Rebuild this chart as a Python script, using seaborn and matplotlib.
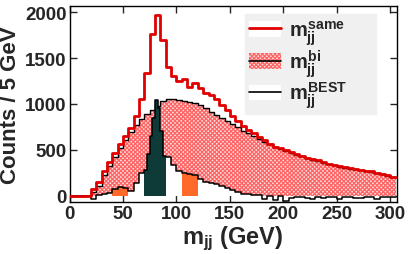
import numpy as np
import pandas as pd
import matplotlib
matplotlib.use("Agg")
import matplotlib.pyplot as plt
import seaborn as sns
from matplotlib.patches import Patch
from matplotlib.lines import Line2D

# ---------------- data (Counts / 5 GeV) ----------------
edges5 = np.arange(0, 310, 5)  # 0 ... 305

m_same = [0, 0, 0, 0, 70, 145, 270, 365, 470, 565,
          650, 735, 870, 1055, 1338, 1763, 1970, 1700, 1400, 1300,
          1255, 1275, 1190, 1230, 1170, 1120, 1100, 1055, 990, 930,
          870, 810, 755, 715, 680, 640, 605, 565, 535, 515,
          495, 475, 455, 435, 415, 400, 385, 365, 350, 335,
          320, 310, 300, 290, 282, 272, 265, 252, 238, 222,
          205]

m_bi = [0, 0, 0, 0, 40, 110, 230, 320, 420, 520,
        610, 690, 770, 840, 890, 930, 980, 1030, 1050, 1055,
        1045, 1030, 1020, 1010, 985, 955, 915, 880, 850, 815,
        780, 745, 710, 680, 650, 620, 590, 560, 530, 505,
        490, 470, 448, 430, 410, 392, 377, 360, 345, 330,
        316, 305, 295, 285, 278, 268, 260, 246, 232, 216,
        200]

# m_BEST: 5 GeV bins, finer 2.5 GeV bins inside the 70-90 GeV window
best_edges = np.concatenate([np.arange(0, 70, 5), np.arange(70, 90, 2.5), np.arange(90, 310, 5)])
m_best = [0, 0, 0, 0, -40, 10, 15, 25, 70, 95, 85, 50, 140, 250,
          280, 450, 650, 850, 1040, 960, 700, 430,
          420, 330, 265, 245, 235, 228, 180, 150, 135, 125,
          110, 80, 60, 40, 15, 15, 5, 10, -40, -5,
          -45, -5, -60, -25, -15, -10, -30, -40, -20, -25,
          -20, -10, -40, -10, -15, -30, -25, -10, -15, -35,
          -20, -15, -10]

signal_window = (70, 90)
sidebands = [(40, 55), (105, 120)]

xticks = [0, 50, 100, 150, 200, 250, 300]
yticks = [0, 500, 1000, 1500, 2000]

# ---------------- style ----------------
sns.set_style("ticks")
plt.rcParams['font.family'] = ['Liberation Sans', 'DejaVu Sans']
plt.rcParams['font.weight'] = 'bold'
plt.rcParams['mathtext.fontset'] = 'custom'
plt.rcParams['mathtext.rm'] = 'Liberation Sans:bold'
plt.rcParams['mathtext.it'] = 'Liberation Sans:bold'
plt.rcParams['mathtext.bf'] = 'Liberation Sans:bold'
plt.rcParams['mathtext.sf'] = 'Liberation Sans:bold'
plt.rcParams['hatch.linewidth'] = 0.9

RED = '#e00000'
PINK_FACE = '#ffdede'
PINK_HATCH = '#ff6464'
DARK = '#0e3a38'
ORANGE = '#ff6a2a'
HATCH = 'xxxxxxxx'

fig = plt.figure(figsize=(4.09, 2.55), dpi=100)
ax = fig.add_axes([0.170, 0.203, 0.800, 0.771])

def centers(e):
    e = np.asarray(e, dtype=float)
    return (e[:-1] + e[1:]) / 2

c5 = centers(edges5)
cb = centers(best_edges)
df5 = pd.DataFrame({'x': c5, 'same': m_same, 'bi': m_bi})
dfb = pd.DataFrame({'x': cb, 'best': m_best})
bins5 = [float(v) for v in edges5]
binsb = [float(v) for v in best_edges]

# pink m_bi fill (hatched)
sns.histplot(data=df5, x='x', weights='bi', bins=bins5, element='step', fill=True,
             facecolor=PINK_FACE, edgecolor=PINK_HATCH, hatch=HATCH, linewidth=0,
             ax=ax, zorder=1)
# its black outline
sns.histplot(data=df5, x='x', weights='bi', bins=bins5, element='step', fill=False,
             color='black', linewidth=1.0, ax=ax, zorder=2)
# m_BEST white fill
sns.histplot(data=dfb, x='x', weights='best', bins=binsb, element='step', fill=True,
             facecolor='white', edgecolor='none', linewidth=0, ax=ax, zorder=3)
# signal window (dark) and sidebands (orange)
for (lo, hi), col in [(signal_window, DARK)] + [(sb, ORANGE) for sb in sidebands]:
    sel = dfb[(dfb.x > lo) & (dfb.x < hi)]
    sel_edges = [b for b in binsb if lo <= b <= hi]
    sns.histplot(data=sel, x='x', weights='best', bins=sel_edges, element='step', fill=True,
                 facecolor=col, edgecolor='none', linewidth=0, ax=ax, zorder=4)
# m_BEST black line
sns.histplot(data=dfb, x='x', weights='best', bins=binsb, element='step', fill=False,
             color='black', linewidth=1.1, ax=ax, zorder=5)
# m_same red line
sns.histplot(data=df5, x='x', weights='same', bins=bins5, element='step', fill=False,
             color=RED, linewidth=2.0, ax=ax, zorder=6)

ax.set_xlim(0, 306)
ax.set_ylim(-72, 2072)
ax.set_xticks(xticks)
ax.set_yticks(yticks)
ax.tick_params(direction='in', top=True, right=True, length=5, width=1,
               labelsize=13.5, pad=2)
for lab in ax.get_xticklabels() + ax.get_yticklabels():
    lab.set_fontweight('bold')
for s in ax.spines.values():
    s.set_linewidth(1.0)
    s.set_color('black')

ax.set_xlabel(r'$m_{jj}$ (GeV)', fontsize=17, fontweight='bold', labelpad=1)
ax.set_ylabel('Counts / 5 GeV', fontsize=16, fontweight='bold', labelpad=3)

handles = [
    (Patch(facecolor='white', edgecolor='none'), Line2D([], [], color=RED, lw=2)),
    (Patch(facecolor=PINK_FACE, edgecolor=PINK_HATCH, hatch=HATCH, lw=0), Line2D([], [], color='black', lw=1.2)),
    (Patch(facecolor='white', edgecolor='none'), Line2D([], [], color='black', lw=1.2)),
]
labels = [r'$m_{jj}^{same}$', r'$m_{jj}^{bi}$', r'$m_{jj}^{BEST}$']
leg = ax.legend(handles, labels, loc='upper left', bbox_to_anchor=(0.537, 0.50, 0.40, 0.458),
                mode='expand', fontsize=14.5, frameon=True, fancybox=False,
                facecolor='#f0f0f0', edgecolor='#f0f0f0', framealpha=1,
                handlelength=1.6, handleheight=0.8, handletextpad=0.35,
                labelspacing=0.02, borderpad=0.2, borderaxespad=0)
leg.set_zorder(10)

fig.savefig('out.png', dpi=100)
